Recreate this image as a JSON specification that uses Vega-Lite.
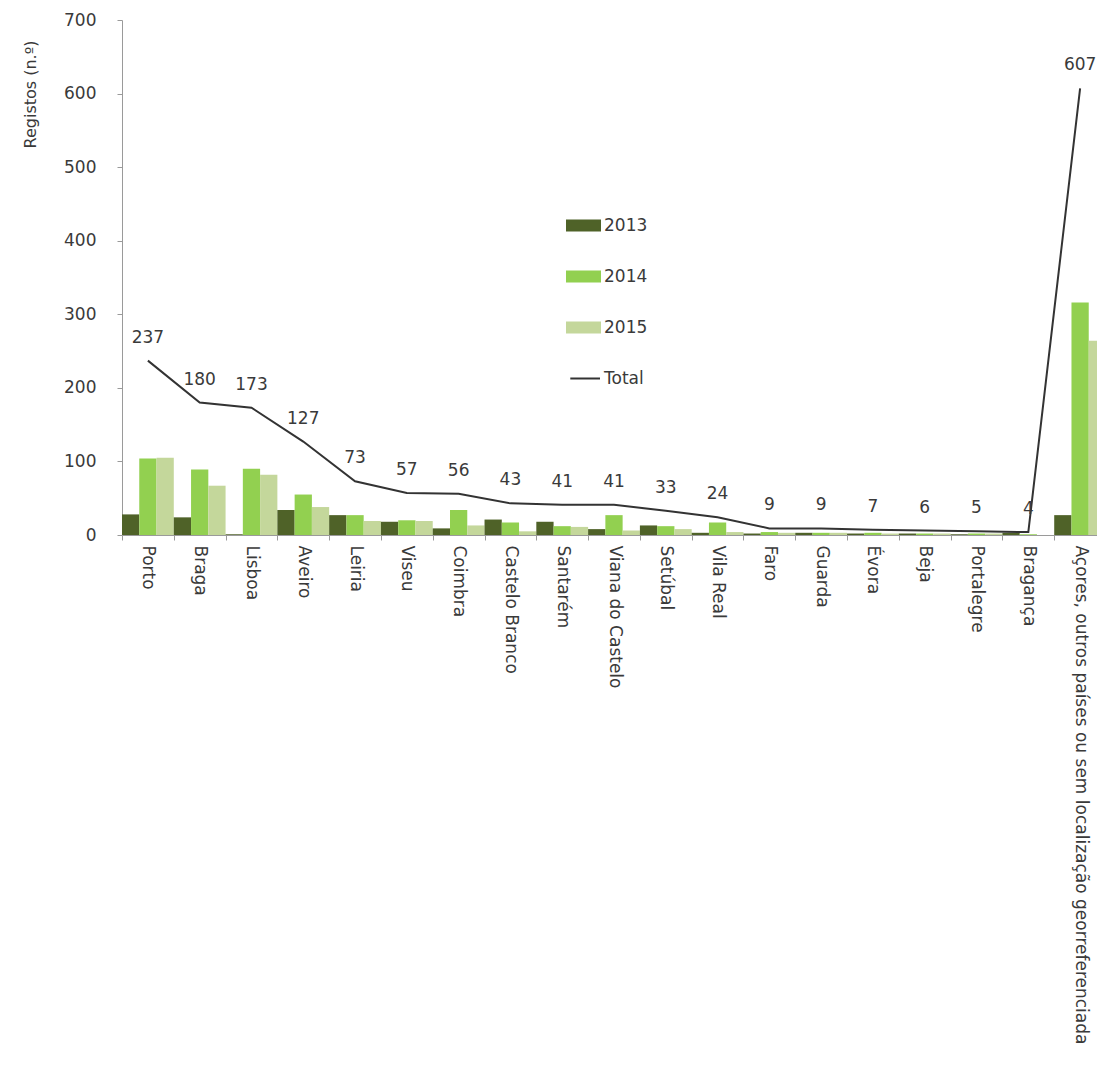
{
  "$schema": "https://vega.github.io/schema/vega-lite/v6.json",
  "autosize": {"type": "none"},
  "padding": {"left": 122, "top": 20, "right": 0, "bottom": 547},
  "width": 975,
  "height": 515,
  "background": "white",
  "config": {
    "view": {"stroke": null},
    "font": "DejaVu Sans",
    "axis": {"labelFont": "DejaVu Sans", "labelColor": "#3a3a3a", "titleColor": "#3a3a3a", "domainColor": "#9a9a9a", "tickColor": "#9a9a9a", "grid": false},
    "legend": {"labelFont": "DejaVu Sans"}
  },
  "datasets": {
    "anual": [
      {"regiao": "Porto", "ano": "2013", "registos": 28},
      {"regiao": "Porto", "ano": "2014", "registos": 104},
      {"regiao": "Porto", "ano": "2015", "registos": 105},
      {"regiao": "Braga", "ano": "2013", "registos": 24},
      {"regiao": "Braga", "ano": "2014", "registos": 89},
      {"regiao": "Braga", "ano": "2015", "registos": 67},
      {"regiao": "Lisboa", "ano": "2013", "registos": 1},
      {"regiao": "Lisboa", "ano": "2014", "registos": 90},
      {"regiao": "Lisboa", "ano": "2015", "registos": 82},
      {"regiao": "Aveiro", "ano": "2013", "registos": 34},
      {"regiao": "Aveiro", "ano": "2014", "registos": 55},
      {"regiao": "Aveiro", "ano": "2015", "registos": 38},
      {"regiao": "Leiria", "ano": "2013", "registos": 27},
      {"regiao": "Leiria", "ano": "2014", "registos": 27},
      {"regiao": "Leiria", "ano": "2015", "registos": 19},
      {"regiao": "Viseu", "ano": "2013", "registos": 18},
      {"regiao": "Viseu", "ano": "2014", "registos": 20},
      {"regiao": "Viseu", "ano": "2015", "registos": 19},
      {"regiao": "Coimbra", "ano": "2013", "registos": 9},
      {"regiao": "Coimbra", "ano": "2014", "registos": 34},
      {"regiao": "Coimbra", "ano": "2015", "registos": 13},
      {"regiao": "Castelo Branco", "ano": "2013", "registos": 21},
      {"regiao": "Castelo Branco", "ano": "2014", "registos": 17},
      {"regiao": "Castelo Branco", "ano": "2015", "registos": 5},
      {"regiao": "Santarém", "ano": "2013", "registos": 18},
      {"regiao": "Santarém", "ano": "2014", "registos": 12},
      {"regiao": "Santarém", "ano": "2015", "registos": 11},
      {"regiao": "Viana do Castelo", "ano": "2013", "registos": 8},
      {"regiao": "Viana do Castelo", "ano": "2014", "registos": 27},
      {"regiao": "Viana do Castelo", "ano": "2015", "registos": 6},
      {"regiao": "Setúbal", "ano": "2013", "registos": 13},
      {"regiao": "Setúbal", "ano": "2014", "registos": 12},
      {"regiao": "Setúbal", "ano": "2015", "registos": 8},
      {"regiao": "Vila Real", "ano": "2013", "registos": 3},
      {"regiao": "Vila Real", "ano": "2014", "registos": 17},
      {"regiao": "Vila Real", "ano": "2015", "registos": 4},
      {"regiao": "Faro", "ano": "2013", "registos": 2},
      {"regiao": "Faro", "ano": "2014", "registos": 4},
      {"regiao": "Faro", "ano": "2015", "registos": 3},
      {"regiao": "Guarda", "ano": "2013", "registos": 3},
      {"regiao": "Guarda", "ano": "2014", "registos": 3},
      {"regiao": "Guarda", "ano": "2015", "registos": 3},
      {"regiao": "Évora", "ano": "2013", "registos": 2},
      {"regiao": "Évora", "ano": "2014", "registos": 3},
      {"regiao": "Évora", "ano": "2015", "registos": 2},
      {"regiao": "Beja", "ano": "2013", "registos": 2},
      {"regiao": "Beja", "ano": "2014", "registos": 2},
      {"regiao": "Beja", "ano": "2015", "registos": 2},
      {"regiao": "Portalegre", "ano": "2013", "registos": 1},
      {"regiao": "Portalegre", "ano": "2014", "registos": 2},
      {"regiao": "Portalegre", "ano": "2015", "registos": 2},
      {"regiao": "Bragança", "ano": "2013", "registos": 3},
      {"regiao": "Bragança", "ano": "2014", "registos": 1},
      {"regiao": "Bragança", "ano": "2015", "registos": 0},
      {"regiao": "Açores, outros países ou sem localização georreferenciada", "ano": "2013", "registos": 27},
      {"regiao": "Açores, outros países ou sem localização georreferenciada", "ano": "2014", "registos": 316},
      {"regiao": "Açores, outros países ou sem localização georreferenciada", "ano": "2015", "registos": 264}
    ],
    "totais": [
      {"regiao": "Porto", "total": 237},
      {"regiao": "Braga", "total": 180},
      {"regiao": "Lisboa", "total": 173},
      {"regiao": "Aveiro", "total": 127},
      {"regiao": "Leiria", "total": 73},
      {"regiao": "Viseu", "total": 57},
      {"regiao": "Coimbra", "total": 56},
      {"regiao": "Castelo Branco", "total": 43},
      {"regiao": "Santarém", "total": 41},
      {"regiao": "Viana do Castelo", "total": 41},
      {"regiao": "Setúbal", "total": 33},
      {"regiao": "Vila Real", "total": 24},
      {"regiao": "Faro", "total": 9},
      {"regiao": "Guarda", "total": 9},
      {"regiao": "Évora", "total": 7},
      {"regiao": "Beja", "total": 6},
      {"regiao": "Portalegre", "total": 5},
      {"regiao": "Bragança", "total": 4},
      {"regiao": "Açores, outros países ou sem localização georreferenciada", "total": 607}
    ]
  },
  "encoding": {
    "x": {
      "field": "regiao",
      "type": "nominal",
      "sort": null,
      "scale": {"range": [0, 984], "paddingInner": 0, "paddingOuter": 0},
      "axis": {
        "title": null,
        "labelAngle": 90,
        "labelAlign": "left",
        "labelBaseline": "middle",
        "labelFontSize": 17,
        "labelPadding": 5,
        "labelLimit": 1000,
        "tickBand": "extent",
        "tickSize": 5
      }
    }
  },
  "layer": [
    {
      "data": {"name": "anual"},
      "mark": {"type": "bar"},
      "encoding": {
        "xOffset": {"field": "ano", "type": "nominal", "scale": {"paddingInner": 0, "paddingOuter": 0}},
        "y": {
          "field": "registos",
          "type": "quantitative",
          "scale": {"domain": [0, 700]},
          "axis": {
            "title": "Registos (n.º)",
            "titleFontSize": 16,
            "titleFontWeight": "normal",
            "titleX": -92,
            "titleY": 74,
            "titleAlign": "center",
            "titleBaseline": "middle",
            "titleAngle": -90,
            "values": [0, 100, 200, 300, 400, 500, 600, 700],
            "labelFontSize": 17,
            "labelPadding": 21,
            "tickSize": 5
          }
        },
        "color": {
          "field": "ano",
          "type": "nominal",
          "scale": {
            "domain": ["2013", "2014", "2015", "Total"],
            "range": ["#4f6228", "#92d050", "#c4d79b", "#333333"]
          },
          "legend": {
            "title": null,
            "orient": "none",
            "legendX": 444,
            "legendY": 188,
            "padding": 0,
            "labelFontSize": 17,
            "labelColor": "#3a3a3a",
            "labelOffset": 3,
            "rowPadding": 24,
            "symbolSize": 1089,
            "encode": {
              "symbols": {
                "update": {
                  "shape": {"signal": "datum.value === 'Total' ? 'M-0.8,0H1' : 'M-1,-0.3H1V0.3H-1Z'"},
                  "fill": {"signal": "datum.value === 'Total' ? 'transparent' : scale('color', datum.value)"},
                  "stroke": {"signal": "datum.value === 'Total' ? '#333333' : 'transparent'"},
                  "strokeWidth": {"value": 2},
                  "opacity": {"value": 1}
                }
              }
            }
          }
        }
      }
    },
    {
      "data": {"name": "totais"},
      "mark": {"type": "line", "strokeWidth": 2},
      "encoding": {
        "y": {"field": "total", "type": "quantitative"},
        "color": {"datum": "Total"}
      }
    },
    {
      "data": {"name": "totais"},
      "mark": {"type": "text", "dy": -23, "fontSize": 17, "color": "#3a3a3a", "font": "DejaVu Sans"},
      "encoding": {
        "y": {"field": "total", "type": "quantitative"},
        "text": {"field": "total", "type": "quantitative"}
      }
    }
  ]
}
